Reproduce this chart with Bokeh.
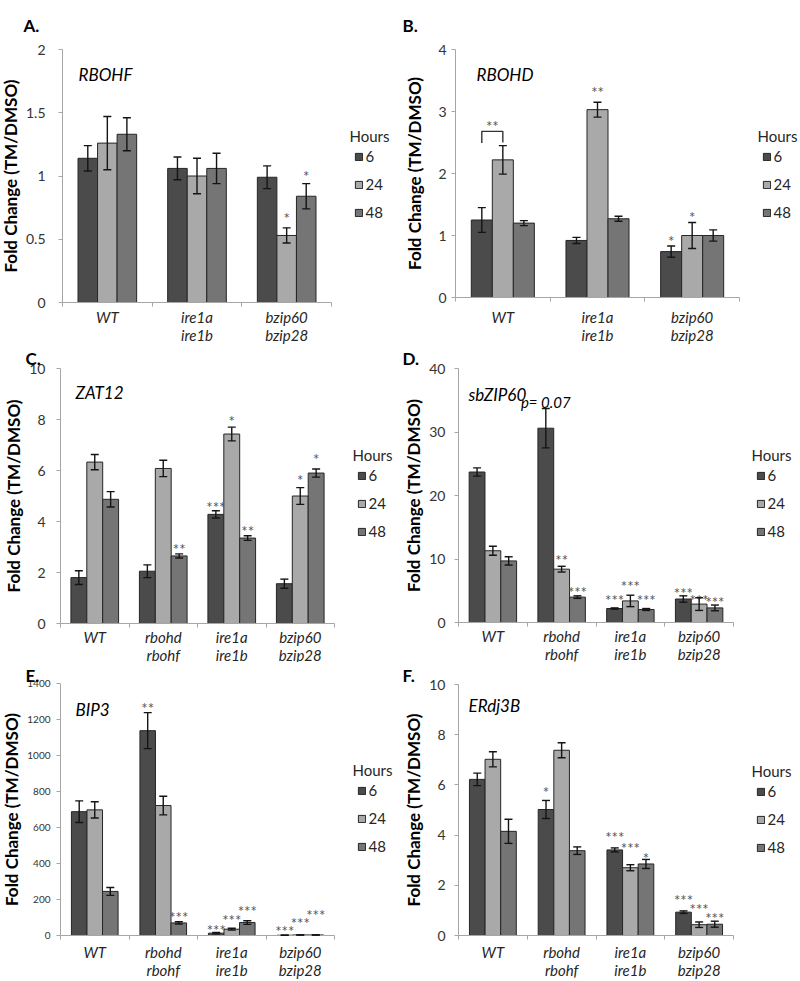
from bokeh.plotting import figure
from bokeh.layouts import row, column
from bokeh.models import (Range1d, FixedTicker, ColumnDataSource, Whisker, TeeHead,
                          Label, Legend, LegendItem)
from bokeh.core.properties import value
from bokeh.embed import file_html
from bokeh.resources import INLINE

# ------------------------------------------------------------------ data
HOURS = ["6", "24", "48"]
Y_LABEL = "Fold Change (TM/DMSO)"
LEGEND_TITLE = "Hours"

groups3 = ["WT", "ire1a\nire1b", "bzip60\nbzip28"]
groups4 = ["WT", "rbohd\nrbohf", "ire1a\nire1b", "bzip60\nbzip28"]

# A. RBOHF
a_gene = "RBOHF"
a_h6 = [1.14, 1.06, 0.99]
a_h24 = [1.26, 1.00, 0.53]
a_h48 = [1.33, 1.06, 0.84]
a_e6 = [0.10, 0.09, 0.09]
a_e24 = [0.21, 0.14, 0.06]
a_e48 = [0.13, 0.12, 0.10]
a_yticks = [0, 0.5, 1, 1.5, 2]
a_ylabels = ["0", "0.5", "1", "1.5", "2"]
a_star_grp = [2, 2]
a_star_hr = [1, 2]
a_star_txt = ["*", "*"]
a_star_y = [0.70, 1.035]

# B. RBOHD
b_gene = "RBOHD"
b_h6 = [1.25, 0.92, 0.74]
b_h24 = [2.22, 3.03, 1.00]
b_h48 = [1.20, 1.27, 1.00]
b_e6 = [0.20, 0.05, 0.09]
b_e24 = [0.23, 0.12, 0.21]
b_e48 = [0.04, 0.04, 0.09]
b_yticks = [0, 1, 2, 3, 4]
b_ylabels = ["0", "1", "2", "3", "4"]
b_star_grp = [1, 2, 2]
b_star_hr = [1, 0, 1]
b_star_txt = ["**", "*", "*"]
b_star_y = [3.38, 0.97, 1.37]
b_bracket_top = 2.68
b_bracket_left_bottom = 2.49
b_bracket_right_bottom = 2.50
b_bracket_text = "**"
b_bracket_text_y = 2.83

# C. ZAT12
c_gene = "ZAT12"
c_h6 = [1.80, 2.05, 4.28, 1.56]
c_h24 = [6.33, 6.08, 7.43, 5.00]
c_h48 = [4.87, 2.65, 3.35, 5.90]
c_e6 = [0.27, 0.25, 0.14, 0.18]
c_e24 = [0.30, 0.32, 0.27, 0.33]
c_e48 = [0.30, 0.08, 0.09, 0.16]
c_yticks = [0, 2, 4, 6, 8, 10]
c_ylabels = ["0", "2", "4", "6", "8", "10"]
c_star_grp = [1, 2, 2, 2, 3, 3]
c_star_hr = [2, 0, 1, 2, 1, 2]
c_star_txt = ["**", "***", "*", "**", "*", "*"]
c_star_y = [3.07, 4.71, 8.08, 3.79, 5.79, 6.60]

# D. sbZIP60
d_gene = "sbZIP60"
d_h6 = [23.7, 30.6, 2.2, 3.7]
d_h24 = [11.3, 8.4, 3.4, 2.9]
d_h48 = [9.7, 4.0, 2.05, 2.3]
d_e6 = [0.65, 3.1, 0.1, 0.5]
d_e24 = [0.7, 0.45, 0.9, 1.0]
d_e48 = [0.65, 0.2, 0.15, 0.45]
d_yticks = [0, 10, 20, 30, 40]
d_ylabels = ["0", "10", "20", "30", "40"]
d_star_grp = [1, 1, 2, 2, 2, 3, 3, 3]
d_star_hr = [1, 2, 0, 1, 2, 0, 1, 2]
d_star_txt = ["**", "***", "***", "***", "***", "***", "***", "***"]
d_star_y = [10.4, 5.5, 4.2, 6.3, 4.2, 5.3, 4.2, 3.8]
d_pval_text = "p= 0.07"
d_pval_grp = 1
d_pval_hr = 0
d_pval_y = 34.7

# E. BIP3
e_gene = "BIP3"
e_h6 = [688, 1138, 13, 1.5]
e_h24 = [698, 722, 35, 3]
e_h48 = [245, 70, 72, 3]
e_e6 = [60, 100, 4, 0.5]
e_e24 = [45, 52, 5, 1]
e_e48 = [22, 6, 10, 1]
e_yticks = [0, 200, 400, 600, 800, 1000, 1200, 1400]
e_ylabels = ["0", "200", "400", "600", "800", "1000", "1200", "1400"]
e_star_grp = [1, 1, 2, 2, 2, 3, 3, 3]
e_star_hr = [0, 2, 0, 1, 2, 0, 1, 2]
e_star_txt = ["**", "***", "***", "***", "***", "***", "***", "***"]
e_star_y = [1285, 126, 55, 109, 161, 46, 89, 135]

# F. ERdj3B
f_gene = "ERdj3B"
f_h6 = [6.22, 5.02, 3.41, 0.93]
f_h24 = [7.02, 7.38, 2.70, 0.43]
f_h48 = [4.15, 3.38, 2.85, 0.45]
f_e6 = [0.25, 0.36, 0.08, 0.05]
f_e24 = [0.30, 0.30, 0.12, 0.11]
f_e48 = [0.48, 0.15, 0.18, 0.12]
f_yticks = [0, 2, 4, 6, 8, 10]
f_ylabels = ["0", "2", "4", "6", "8", "10"]
f_star_grp = [1, 2, 2, 2, 3, 3, 3]
f_star_hr = [0, 0, 1, 2, 0, 1, 2]
f_star_txt = ["*", "***", "***", "*", "***", "***", "***"]
f_star_y = [5.87, 4.09, 3.65, 3.25, 1.59, 1.20, 0.86]

# ------------------------------------------------------------------ style
FONT = "Lato"
BAR_COLORS = ["#4b4b4b", "#a9a9a9", "#757575"]
OUTLINE = "#262626"
AXIS_GRAY = "#a6a6a6"
TEXT_DARK = "#262626"
STAR_COLOR = "#555555"

COL_X = [0, 400]
COL_W = 400
ROW_Y = [0, 345, 662]
ROW_H = [345, 317, 318]


def make_panel(letter, gene, groups, means, errs, yticks, ylabels,
               star_grp, star_hr, star_txt, star_y,
               col, rowi, frame, bar_w, tick_size, tick_standoff, label_standoff,
               x_standoff, gene_off, letter_pos):
    X0, Y0, W, H = COL_X[col], ROW_Y[rowi], COL_W, ROW_H[rowi]
    L, T, R, B = frame          # page pixels of the data box (0..n, 0..ymax)
    n = len(groups)
    ymax = yticks[-1]
    kx = n / (R - L)
    ky = ymax / (B - T)
    xr = Range1d(-(L - X0) * kx, n + (X0 + W - R) * kx)
    yr = Range1d(-(Y0 + H - B) * ky, ymax + (T - Y0) * ky)

    def to_data(px, py):
        return (px - L) * kx, (B - py) * ky

    p = figure(width=W, height=H, x_range=xr, y_range=yr,
               output_backend="svg", toolbar_location=None,
               min_border_left=0, min_border_right=0,
               min_border_top=0, min_border_bottom=0,
               outline_line_color=None, background_fill_color="white",
               border_fill_color="white")
    p.xgrid.grid_line_color = None
    p.ygrid.grid_line_color = None

    rends = []
    bar_x = []
    for j in range(3):
        xs = [i + 0.5 + (j - 1) * bar_w for i in range(n)]
        bar_x.append(xs)
        src = ColumnDataSource(dict(
            x=xs, top=means[j],
            upper=[m + e for m, e in zip(means[j], errs[j])],
            lower=[m - e for m, e in zip(means[j], errs[j])]))
        r = p.vbar(x="x", top="top", width=bar_w, source=src,
                   fill_color=BAR_COLORS[j], line_color=OUTLINE, line_width=1)
        rends.append(r)
        wh = Whisker(source=src, base="x", upper="upper", lower="lower",
                     line_color="#141414", line_width=1.4, level="overlay",
                     upper_head=TeeHead(size=8, line_color="#141414", line_width=1.4),
                     lower_head=TeeHead(size=8, line_color="#141414", line_width=1.4))
        p.add_layout(wh)

    # significance stars
    sx = [bar_x[h][g] for g, h in zip(star_grp, star_hr)]
    p.text(x=sx, y=star_y, text=star_txt, text_font=value(FONT),
           text_font_size="15px", text_color=STAR_COLOR, text_align="center",
           text_baseline="alphabetic", y_offset=4)

    # axes, pinned at the data origin
    xa = p.xaxis[0]
    xa.fixed_location = 0
    xa.bounds = (0, n)
    xa.ticker = FixedTicker(ticks=[i + 0.5 for i in range(n)],
                            minor_ticks=list(range(n + 1)))
    xa.major_label_overrides = {i + 0.5: g for i, g in enumerate(groups)}
    xa.major_tick_line_color = None
    xa.major_tick_out = 0
    xa.major_tick_in = 0
    xa.minor_tick_line_color = AXIS_GRAY
    xa.minor_tick_out = 4
    xa.minor_tick_in = 0
    xa.axis_line_color = AXIS_GRAY
    xa.major_label_text_font = FONT
    xa.major_label_text_font_style = "italic"
    xa.major_label_text_font_size = "15px"
    xa.major_label_text_line_height = 1.0
    xa.major_label_text_color = TEXT_DARK
    xa.major_label_standoff = x_standoff

    ya = p.yaxis[0]
    ya.fixed_location = 0
    ya.bounds = (0, ymax)
    ya.ticker = FixedTicker(ticks=yticks)
    ya.major_label_overrides = {t: s for t, s in zip(yticks, ylabels)}
    ya.major_tick_out = 4
    ya.major_tick_in = 0
    ya.minor_tick_line_color = None
    ya.major_tick_line_color = AXIS_GRAY
    ya.axis_line_color = AXIS_GRAY
    ya.major_label_text_font = FONT
    ya.major_label_text_font_size = tick_size
    ya.major_label_text_color = "#333333"
    ya.major_label_standoff = tick_standoff
    ya.axis_label = Y_LABEL
    ya.axis_label_text_font = FONT
    ya.axis_label_text_font_style = "bold"
    ya.axis_label_text_font_size = "17px"
    ya.axis_label_text_color = "black"
    ya.axis_label_standoff = label_standoff

    # gene name
    gx, gy = to_data(L + gene_off[0], T + gene_off[1])
    p.add_layout(Label(x=gx, y=gy, text=gene, text_font=FONT, text_font_style="italic",
                       text_font_size="17px", text_color="black",
                       text_baseline="alphabetic"))
    # panel letter
    lx, ly = to_data(*letter_pos)
    p.add_layout(Label(x=lx, y=ly, text=letter, text_font=FONT, text_font_style="bold",
                       text_font_size="17px", text_color="black",
                       text_baseline="alphabetic"))
    # legend title and legend
    hx, hy = to_data(R + 18, T + 86)
    p.add_layout(Label(x=hx, y=hy, text=LEGEND_TITLE, text_font=FONT,
                       text_font_size="15px", text_color=TEXT_DARK,
                       text_baseline="alphabetic"))
    leg_left = (R + 27 - 4.5) - X0
    leg_bottom = (Y0 + H) - (T + 98 + 74)
    legend = Legend(items=[LegendItem(label=h, renderers=[r]) for h, r in zip(HOURS, rends)],
                    location=(leg_left, leg_bottom), orientation="vertical",
                    glyph_width=9, glyph_height=9, label_height=18, spacing=10,
                    label_standoff=3, padding=0, margin=0,
                    border_line_color=None, background_fill_alpha=0,
                    label_text_font=FONT, label_text_font_size="15px",
                    label_text_color=TEXT_DARK)
    p.add_layout(legend)
    return p, to_data, bar_x


pA, _, _ = make_panel("A.", a_gene, groups3, [a_h6, a_h24, a_h48], [a_e6, a_e24, a_e48],
                      a_yticks, a_ylabels, a_star_grp, a_star_hr, a_star_txt, a_star_y,
                      0, 0, (62, 49, 331, 302), 0.218, "14px", 13, 2, 1,
                      (16, 25), (23, 25))

pB, toB, bxB = make_panel("B.", b_gene, groups3, [b_h6, b_h24, b_h48], [b_e6, b_e24, b_e48],
                          b_yticks, b_ylabels, b_star_grp, b_star_hr, b_star_txt, b_star_y,
                          1, 0, (455, 49, 739, 297), 0.222, "14px", 5, 10, 6,
                          (21, 25), (402, 25))
# bracket in B between WT 6 h and WT 24 h
bl, br = bxB[0][0], bxB[1][0]
pB.line(x=[bl, bl, br, br],
        y=[b_bracket_left_bottom, b_bracket_top, b_bracket_top, b_bracket_right_bottom],
        line_color="#333333", line_width=1.4)
pB.text(x=[(bl + br) / 2], y=[b_bracket_text_y], text=[b_bracket_text],
        text_font=value(FONT), text_font_size="15px", text_color=STAR_COLOR,
        text_align="center", text_baseline="alphabetic", y_offset=4)

pC, _, _ = make_panel("C.", c_gene, groups4, [c_h6, c_h24, c_h48], [c_e6, c_e24, c_e48],
                      c_yticks, c_ylabels, c_star_grp, c_star_hr, c_star_txt, c_star_y,
                      0, 1, (60, 368, 334, 623), 0.232, "14px", 11, 2, 0,
                      (15, 24), (25, 358))

pD, toD, bxD = make_panel("D.", d_gene, groups4, [d_h6, d_h24, d_h48], [d_e6, d_e24, d_e48],
                          d_yticks, d_ylabels, d_star_grp, d_star_hr, d_star_txt, d_star_y,
                          1, 1, (458, 368, 733, 622), 0.23, "14px", 9, 2, 0,
                          (10, 26), (402, 358))
pD.add_layout(Label(x=bxD[d_pval_hr][d_pval_grp], y=d_pval_y, text=d_pval_text,
                    text_font=FONT, text_font_style="italic", text_font_size="15px",
                    text_color="black", text_align="center", text_baseline="alphabetic"))

pE, _, _ = make_panel("E.", e_gene, groups4, [e_h6, e_h24, e_h48], [e_e6, e_e24, e_e48],
                      e_yticks, e_ylabels, e_star_grp, e_star_hr, e_star_txt, e_star_y,
                      0, 2, (60, 683, 334, 935), 0.227, "10px", 6, 2, 3,
                      (15, 26), (25, 675))

pF, _, _ = make_panel("F.", f_gene, groups4, [f_h6, f_h24, f_h48], [f_e6, f_e24, f_e48],
                      f_yticks, f_ylabels, f_star_grp, f_star_hr, f_star_txt, f_star_y,
                      1, 2, (458, 684, 733, 935), 0.227, "14px", 9, 2, 3,
                      (10, 21), (402, 675))

layout = column(row(pA, pB), row(pC, pD), row(pE, pF))
open("out.html", "w").write(file_html(layout, INLINE, "Fold change"))
